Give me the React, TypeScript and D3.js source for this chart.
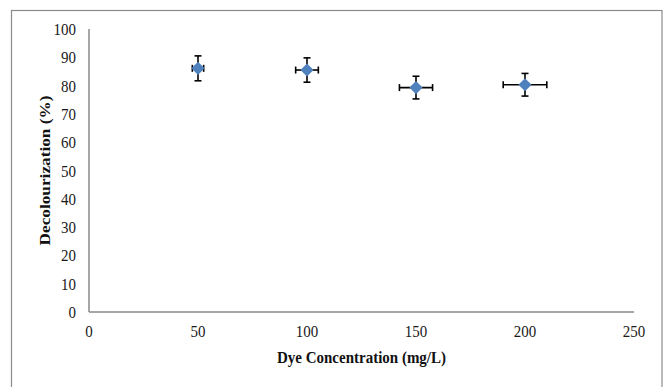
import React from "react";
import * as d3 from "d3";

const concentrations = [50, 100, 150, 200];
const decolourization = [86.1, 85.5, 79.3, 80.3];
const yErrors = [4.4, 4.3, 4.0, 4.0];
const xErrors = [2.6, 5.2, 7.6, 10.0];
const xTicks = [0, 50, 100, 150, 200, 250];
const yTicks = [0, 10, 20, 30, 40, 50, 60, 70, 80, 90, 100];

const W = 670;
const H = 387;
const left = 89;
const right = 634;
const top = 29;
const bottom = 312;

export default function App() {
  const x = d3.scaleLinear().domain([0, 250]).range([left, right]);
  const y = d3.scaleLinear().domain([0, 100]).range([bottom, top]);
  const diamond = d3.symbol().type(d3.symbolDiamond2).size(110)();
  const font = "Liberation Serif, Times New Roman, serif";
  const cap = 3.5;

  return (
    <svg
      width={W}
      height={H}
      style={{ position: "absolute", left: 0, top: 0, background: "#fff", fontFamily: font }}
    >
      <rect x={0} y={0} width={W} height={H} fill="#fff" />
      <rect x={11.5} y={10.5} width={650.5} height={400} fill="none" stroke="#8c8c8c" strokeWidth={1.2} />
      <line x1={x(0)} x2={x(0)} y1={y(100)} y2={y(0)} stroke="#898989" strokeWidth={1.5} />
      <line x1={x(0)} x2={x(250)} y1={y(0)} y2={y(0)} stroke="#898989" strokeWidth={1.5} />
      {yTicks.map((t) => (
        <text
          key={"y" + t}
          transform={`translate(76,${y(t)}) scale(1,1.15)`}
          dy="0.35em"
          textAnchor="end"
          fontSize={15}
          fill="#1a1a1a"
        >
          {t}
        </text>
      ))}
      {xTicks.map((t) => (
        <text
          key={"x" + t}
          transform={`translate(${x(t)},337) scale(1,1.15)`}
          textAnchor="middle"
          fontSize={15}
          fill="#1a1a1a"
        >
          {t}
        </text>
      ))}
      <text
        transform={`translate(${(left + right) / 2},363) scale(1,1.15)`}
        textAnchor="middle"
        fontSize={15}
        fontWeight="bold"
        fill="#111"
      >
        Dye Concentration (mg/L)
      </text>
      <text
        transform={`translate(50,${(top + bottom) / 2}) rotate(-90) scale(1.15,1)`}
        textAnchor="middle"
        fontSize={15}
        fontWeight="bold"
        fill="#111"
      >
        Decolourization (%)
      </text>
      {concentrations.map((c, i) => {
        const cx = x(c);
        const cy = y(decolourization[i]);
        const y1 = y(decolourization[i] + yErrors[i]);
        const y2 = y(decolourization[i] - yErrors[i]);
        const x1 = x(c - xErrors[i]);
        const x2 = x(c + xErrors[i]);
        return (
          <g key={c} stroke="#000" strokeWidth={1.6}>
            <line x1={cx} x2={cx} y1={y1} y2={y2} />
            <line x1={cx - cap} x2={cx + cap} y1={y1} y2={y1} />
            <line x1={cx - cap} x2={cx + cap} y1={y2} y2={y2} />
            <line x1={x1} x2={x2} y1={cy} y2={cy} />
            <line x1={x1} x2={x1} y1={cy - cap} y2={cy + cap} />
            <line x1={x2} x2={x2} y1={cy - cap} y2={cy + cap} />
            <path d={diamond} transform={`translate(${cx},${cy})`} fill="#4f81bd" stroke="none" />
          </g>
        );
      })}
    </svg>
  );
}
